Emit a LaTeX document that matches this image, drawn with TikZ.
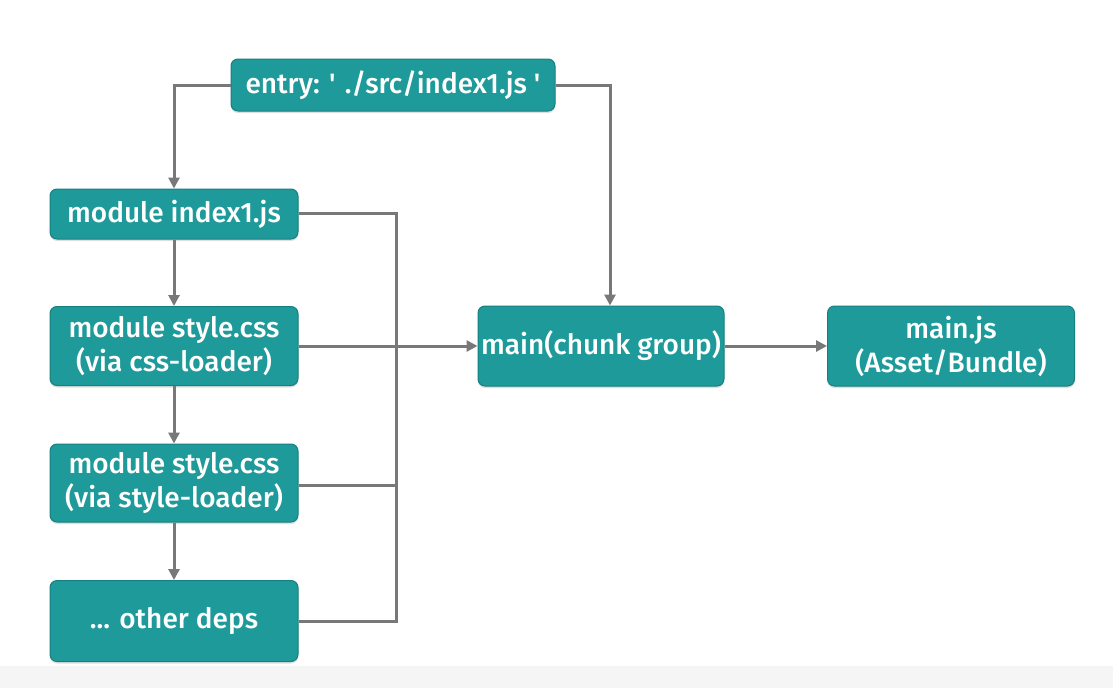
\documentclass[tikz,border=0pt]{standalone}
\usepackage{fontspec}
\setmainfont{Fira Sans}[Ligatures=TeXOff,UprightFont={* Medium}]
\usetikzlibrary{arrows.meta,shadows}
\definecolor{teal1}{HTML}{1F9A9A}
\definecolor{teal2}{HTML}{177F7F}
\definecolor{line1}{HTML}{787878}
\begin{document}
\begin{tikzpicture}[x=1pt,y=-1pt,
  box/.style={draw=teal2,line width=1pt,fill=teal1,rounded corners=7pt,text=white,
    align=center,font=\fontsize{28}{34}\selectfont,inner sep=0pt,
    drop shadow={shadow xshift=0pt,shadow yshift=-2pt,opacity=0.25}},
  conn/.style={draw=line1,line width=3pt},
  arr/.style={conn,-{Triangle[length=11pt,width=11pt]}}]
\fill[white] (0,0) rectangle (1113,688);
\fill[black!4] (0,666) rectangle (1113,688);
\useasboundingbox (0,0) rectangle (1113,688);
\node[box,minimum width=324pt,minimum height=52pt] (entry) at (393,85) {entry: ' ./src/index1.js '};
\node[box,minimum width=248pt,minimum height=50pt] (idx) at (174,214) {module index1.js};
\node[box,minimum width=248pt,minimum height=79pt] (css) at (174,346) {module style.css\\(via css-loader)};
\node[box,minimum width=248pt,minimum height=78pt] (sty) at (174,483) {module style.css\\(via style-loader)};
\node[box,minimum width=248pt,minimum height=81pt] (oth) at (174,621) {... other deps};
\node[box,minimum width=246pt,minimum height=80pt] (chunk) at (601,346) {main(chunk group)};
\node[box,minimum width=247pt,minimum height=80pt] (mainjs) at (951,346) {main.js\\(Asset/Bundle)};
\coordinate (bt) at (396,213);
\coordinate (bb) at (396,621);
\draw[arr] (entry.west) -| (idx.north);
\draw[arr] (entry.east) -| (chunk.north -| 610,0);
\draw[arr] (idx) -- (css);
\draw[arr] (css) -- (sty);
\draw[arr] (sty) -- (oth);
\draw[conn] (idx.east |- bt) -- (bt) -- (bb) -- (oth.east);
\draw[conn] (sty.east |- 0,485) -- (396,485);
\draw[arr] (css.east) -- (chunk.west);
\draw[arr] (chunk.east) -- (mainjs.west);
\end{tikzpicture}
\end{document}
